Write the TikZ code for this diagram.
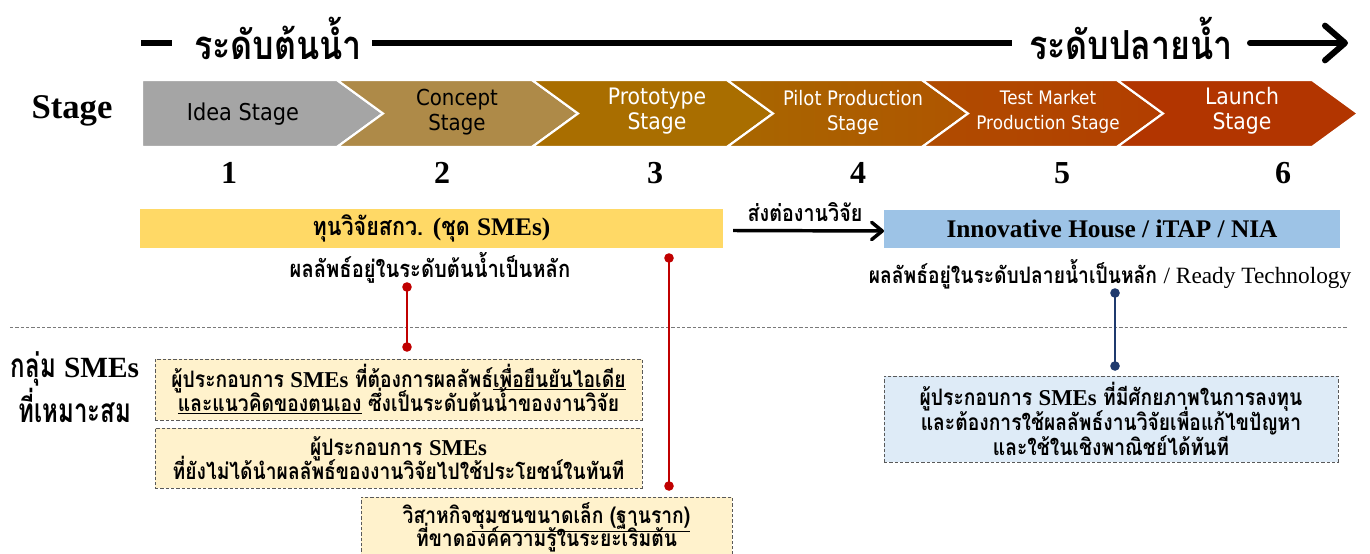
\documentclass[tikz,border=0pt]{standalone}
\usepackage{fontspec}
\setmainfont{Liberation Serif}
\newfontfamily\thai[Script=Thai,FakeStretch=0.85]{Loma}
\newfontfamily\thaic[Script=Thai,FakeStretch=0.72]{Loma}
\newfontfamily\thaih[Script=Thai,FakeStretch=0.85]{Loma}
\newfontfamily\lsans[FakeStretch=0.9]{DejaVu Sans}
\newcommand\LS[2][17]{{\rmfamily\bfseries\fontsize{#1}{#1}\selectfont #2}}
\newcommand\LR[2][17]{{\rmfamily\mdseries\fontsize{#1}{#1}\selectfont #2}}
\newcommand\tightlines{\lineskiplimit=-100pt\lineskip=0pt}
\usetikzlibrary{arrows.meta}
\definecolor{cIdea}{HTML}{A5A5A5}
\definecolor{cConcept}{HTML}{AE8A48}
\definecolor{cProto}{HTML}{A96E00}
\definecolor{cPilotL}{HTML}{A86700}
\definecolor{cPilotR}{HTML}{AF5500}
\definecolor{cTestL}{HTML}{B04C00}
\definecolor{cTestR}{HTML}{B23E00}
\definecolor{cLaunch}{HTML}{B23500}
\definecolor{cYellow}{HTML}{FFD966}
\definecolor{cBlue}{HTML}{9DC3E6}
\definecolor{cBoxY}{HTML}{FFF2CC}
\definecolor{cBoxB}{HTML}{DEEBF7}
\definecolor{cBorder}{HTML}{595959}
\definecolor{cRed}{HTML}{C00000}
\definecolor{cNavy}{HTML}{1F3A6E}
\begin{document}
\begin{tikzpicture}[x=0.75pt,y=-0.75pt,
  hdrline/.style={line width=4.5pt,black},
  hdrtext/.style={font=\thaih\bfseries\fontsize{30}{34}\selectfont,inner sep=0pt},
  stlabel/.style={font=\lsans\fontsize{#1}{18.75}\selectfont\tightlines,align=center,inner sep=0pt},
  numtext/.style={font=\rmfamily\bfseries\fontsize{24}{28}\selectfont,inner sep=0pt},
  thtext/.style={font=\thai\bfseries\fontsize{#1}{22}\selectfont,inner sep=0pt,align=center},
  bar/.style={inner sep=0pt,outer sep=0pt},
  sbox/.style={draw=cBorder,line width=0.75pt,dash pattern=on 2.5pt off 1.5pt,inner sep=0pt,
    align=center,font=\thai\bfseries\fontsize{17}{#1}\selectfont\tightlines},
  conn/.style={line width=2.2pt},
  dotr/.style={radius=3.6pt}
]
\useasboundingbox (0,0) rectangle (1370,553);
% header
\node[hdrtext] (h1) at (278,38) {ระดับต้นน้ำ};
\node[hdrtext] (h2) at (1131,38) {ระดับปลายน้ำ};
\coordinate (hA) at (141,43);
\coordinate (hB) at (172,43);
\coordinate (hC) at (372,43);
\coordinate (hD) at (1012,43);
\coordinate (hE) at (1250,43);
\coordinate (hF) at (1348,43);
\draw[hdrline] (hA) -- (hB);
\draw[hdrline] (hC) -- (hD);
\draw[hdrline,-{Straight Barb[length=15pt,width=26pt,line cap=round,line join=round]},line cap=round] (hE) -- (hF);
% stage label
\node[font=\rmfamily\bfseries\fontsize{26}{30}\selectfont,inner sep=0pt] (stg) at (72,111) {Stage};
% chevrons
\foreach \i/\cl/\cr in {0/cIdea/cIdea,1/cConcept/cConcept,2/cProto/cProto,3/cPilotL/cPilotR,4/cTestL/cTestR,5/cLaunch/cLaunch}{
  \pgfmathsetmacro\L{142+195*\i}
  \pgfmathsetmacro\R{\L+195}
  \pgfmathsetmacro\N{\i==0 ? 0 : 46}
  \shadedraw[left color=\cl,right color=\cr,draw=white,line width=1.6pt,line join=miter]
    (\L,80) -- (\R,80) -- (\R+46,113.5) -- (\R,147) -- (\L,147) -- (\L+\N,113.5) -- cycle;
}
\node[stlabel=17.4] (s1) at (243,114) {Idea Stage};
\node[stlabel=16.5] (s2) at (457,112) {Concept\\Stage};
\node[stlabel=17,text=white] (s3) at (657,111) {Prototype\\Stage};
\node[stlabel=15,text=white] (s4) at (853,112) {Pilot Production\\Stage};
\node[stlabel=14,text=white] (s5) at (1048,112) {Test Market\\Production Stage};
\node[stlabel=17,text=white] (s6) at (1242,111) {Launch\\Stage};
% numbers
\node[numtext] (n1) at (229,173) {1};
\node[numtext] (n2) at (442,173) {2};
\node[numtext] (n3) at (655,173) {3};
\node[numtext] (n4) at (858,173) {4};
\node[numtext] (n5) at (1062,173) {5};
\node[numtext] (n6) at (1283,173) {6};
% bars
\node[bar,fill=cYellow,minimum width=437.25pt,minimum height=29.25pt] (yb) at (431.5,228.5) {};
\node[thtext=19] at (yb.center) {ทุนวิจัยสกว. \LS[19]{(}ชุด \LS[19]{SMEs)}};
\node[bar,fill=cBlue,minimum width=342pt,minimum height=28.5pt] (bb) at (1112,229) {};
\node[font=\rmfamily\bfseries\fontsize{19}{22}\selectfont,inner sep=0pt] at (bb.center) {Innovative House / iTAP / NIA};
\draw[line width=2.6pt,-{Straight Barb[length=8pt,width=13pt,line cap=round,line join=round]}] ([xshift=7.5pt,yshift=-1.5pt]yb.east) -- ([yshift=-1.5pt]bb.west);
\node[thtext=17.4] (lbl) at (805,212) {ส่งต่องานวิจัย};
\node[thtext=17.8] (up1) at (430,268) {ผลลัพธ์อยู่ในระดับต้นน้ำเป็นหลัก};
\node[thtext=17] (dn1) at (1110,274) {ผลลัพธ์อยู่ในระดับปลายน้ำเป็นหลัก \LR[17.5]{/ Ready Technology}};
% separator
\coordinate (sepL) at (10,327);
\coordinate (sepR) at (1348,327);
\draw[cBorder!80,line width=0.6pt,dash pattern=on 2.5pt off 1.5pt] (sepL) -- (sepR);
% left label
\node[font=\thaic\bfseries\fontsize{25}{28}\selectfont,inner sep=0pt] (g1) at (75,369) {กลุ่ม \LS[22]{SMEs}};
\node[font=\thaic\bfseries\fontsize{25}{28}\selectfont,inner sep=0pt] (g2) at (75,405) {ที่เหมาะสม};
% boxes
\node[sbox=18,fill=cBoxY,minimum width=365.25pt,minimum height=45.75pt] (b1) at (398.5,389.5)
  {ผู้ประกอบการ \LS{SMEs} ที่ต้องการผลลัพธ์\underline{เพื่อยืนยันไอเดีย}\\\underline{และแนวคิดของตนเอง} ซึ่งเป็นระดับต้นน้ำของงานวิจัย};
\node[sbox=18.5,fill=cBoxY,minimum width=365.25pt,minimum height=45pt] (b2) at (398.5,458)
  {ผู้ประกอบการ \LS{SMEs}\\ที่ยังไม่ได้นำผลลัพธ์ของงานวิจัยไปใช้ประโยชน์ในทันที};
\node[sbox=17.5,fill=cBoxY,minimum width=278.25pt,minimum height=45pt] (b3) at (546.5,527)
  {วิสาหกิจ\underline{ชุมชนขนาดเล็ก (ฐานราก)}\\ที่ขาดองค์ความรู้ในระยะเริ่มต้น};
\node[sbox=18.75,fill=cBoxB,minimum width=340.5pt,minimum height=64.5pt] (b4) at (1111,419)
  {ผู้ประกอบการ \LS{SMEs} ที่มีศักยภาพในการลงทุน\\และต้องการใช้ผลลัพธ์งานวิจัยเพื่อแก้ไขปัญหา\\และใช้ในเชิงพาณิชย์ได้ทันที};
% connectors
\coordinate (r1a) at (407,287);
\coordinate (r1b) at (407,347);
\coordinate (r2a) at (669,258);
\coordinate (r2b) at (669,486);
\coordinate (n1a) at (1115,293);
\coordinate (n1b) at (1115,366);
\draw[conn,cRed] (r1a) -- (r1b);
\fill[cRed,dotr] (r1a) circle[] (r1b) circle[];
\draw[conn,cRed] (r2a) -- (r2b);
\fill[cRed,dotr] (r2a) circle[] (r2b) circle[];
\draw[conn,cNavy] (n1a) -- (n1b);
\fill[cNavy,dotr] (n1a) circle[] (n1b) circle[];
\end{tikzpicture}
\end{document}
